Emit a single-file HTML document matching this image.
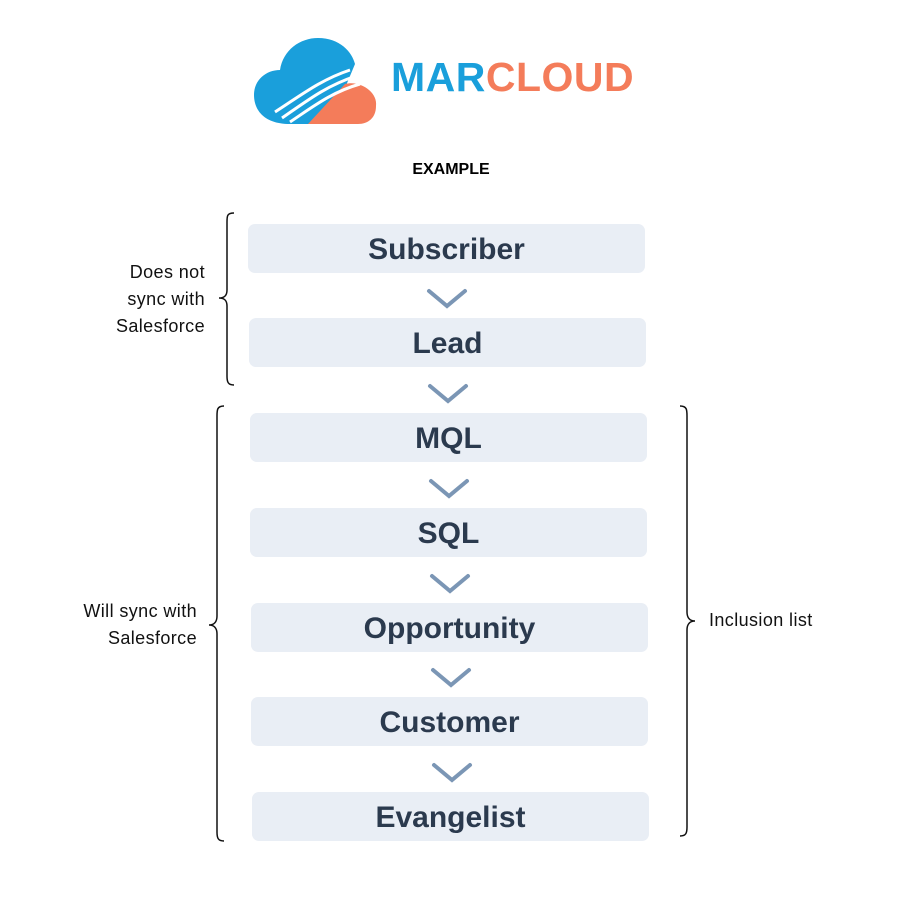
<!DOCTYPE html>
<html><head><meta charset="utf-8"><style>
body{margin:0;width:900px;height:900px;background:#fff;position:relative;font-family:"Liberation Sans",sans-serif;overflow:hidden}
.b{position:absolute;width:397px;height:49px;background:#e9eef5;border-radius:7px;color:#2b3a4e;font-weight:bold;font-size:30px;text-align:center;line-height:51px}
.t{position:absolute;font-size:18px;letter-spacing:0.4px;color:#111;line-height:27px;text-align:right}
svg{position:absolute;left:0;top:0}
</style></head><body>
<svg width="900" height="900">
<g>
<path d="M290 124 C262 124 254 108 254 95 C254 80 266 70 280 70 C283 50 300 38 318 38 C340 38 352 52 355 64 L330 124 Z" fill="#1a9fdb"/>
<path d="M308 124 L345 84 C360 80 378 92 376 106 C376 118 368 124 358 124 Z" fill="#f47c5a"/>
<path d="M275 112 C300 96 320 80 350 70" stroke="#fff" stroke-width="3" fill="none"/>
<path d="M282 118 C308 100 326 86 356 76" stroke="#fff" stroke-width="3" fill="none"/>
<path d="M290 122 C314 106 332 92 360 84" stroke="#fff" stroke-width="3" fill="none"/>
</g>
<g stroke="#7b96b5" stroke-width="4" fill="none" stroke-linecap="round">
<path d="M429 291 L447 306 L465 291"/>
<path d="M430 386 L448 401 L466 386"/>
<path d="M431 481 L449 496 L467 481"/>
<path d="M432 576 L450 591 L468 576"/>
<path d="M433 670 L451 685 L469 670"/>
<path d="M434 765 L452 780 L470 765"/>
</g>
<g stroke="#111" stroke-width="1.5" fill="none">
<path d="M234 213 C227 213 227 216 227 222 L227 290 C227 296 224 298 219 298 C224 298 227 300 227 306 L227 376 C227 382 228 385 234 385"/>
<path d="M224 406 C217 406 217 410 217 416 L217 616 C217 622 214 625 209 625 C214 625 217 628 217 634 L217 832 C217 838 218 841 224 841"/>
<path d="M680 406 C687 406 687 410 687 416 L687 612 C687 618 690 621 695 621 C690 621 687 624 687 630 L687 827 C687 833 686 836 680 836"/>
</g>
</svg>
<div style="position:absolute;left:391px;top:52px;font-size:41px;font-weight:bold;letter-spacing:0.5px;line-height:50px"><span style="color:#1a9fdb">MAR</span><span style="color:#f47c5a">CLOUD</span></div>
<div style="position:absolute;left:351px;width:200px;top:161px;text-align:center;font-weight:bold;font-size:16px">EXAMPLE</div>
<div class="b" style="left:248px;top:224px">Subscriber</div>
<div class="b" style="left:249px;top:318px">Lead</div>
<div class="b" style="left:250px;top:413px">MQL</div>
<div class="b" style="left:250px;top:508px">SQL</div>
<div class="b" style="left:251px;top:603px">Opportunity</div>
<div class="b" style="left:251px;top:697px">Customer</div>
<div class="b" style="left:252px;top:792px">Evangelist</div>
<div class="t" style="right:695px;top:259px">Does not<br>sync with<br>Salesforce</div>
<div class="t" style="right:703px;top:598px">Will sync with<br>Salesforce</div>
<div class="t" style="left:709px;top:607px;text-align:left">Inclusion list</div>
</body></html>
